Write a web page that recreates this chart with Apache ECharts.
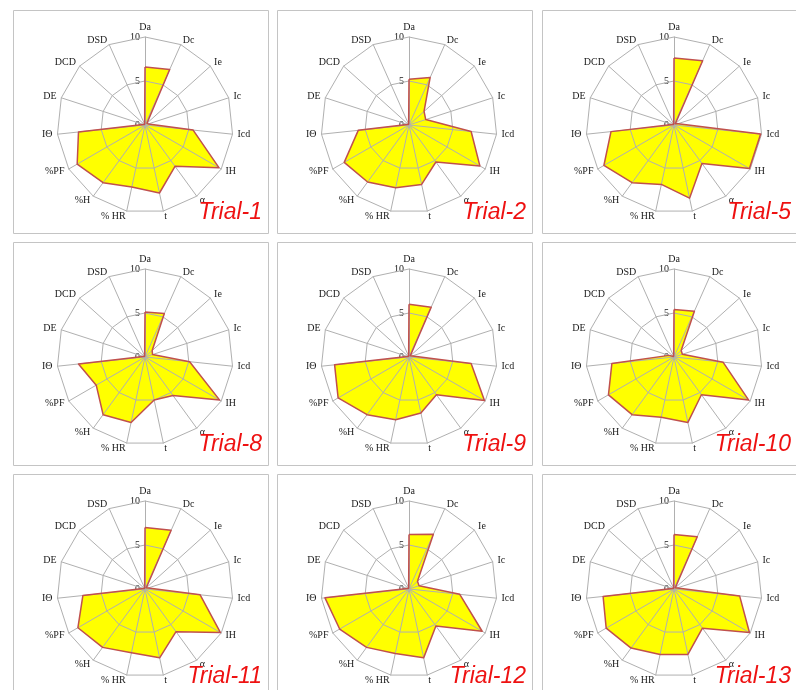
<!DOCTYPE html>
<html>
<head>
<meta charset="utf-8">
<script src="https://cdn.jsdelivr.net/npm/echarts@6/dist/echarts.min.js"></script>
<style>
  html, body { margin: 0; padding: 0; background: #fff; }
  #chart { width: 796px; height: 690px; }
</style>
</head>
<body>
<div id="chart"></div>
<script>
// axes, clockwise from the top
const axisNames = ['Da', 'Dc', 'Ie', 'Ic', 'Icd', 'IH', 'α', 't', '% HR', '%H', '%PF', 'IΘ', 'DE', 'DCD', 'DSD'];
const axisMax = 10;
const radiusTicks = [0, 5, 10];

const trialNames = ['Trial-1', 'Trial-2', 'Trial-5', 'Trial-8', 'Trial-9', 'Trial-10', 'Trial-11', 'Trial-12', 'Trial-13'];

//                Da   Dc   Ie   Ic   Icd  IH   α    t    %HR  %H   %PF  IΘ   DE   DCD  DSD
const trial1  = [6.6, 6.9, 0.3, 0.4, 5.5, 9.7, 5.8, 7.9, 7.2, 8.1, 8.9, 7.6, 0.2, 0.1, 0.1];
const trial2  = [5.2, 5.9, 2.3, 2.0, 7.1, 9.3, 5.2, 6.9, 7.3, 8.0, 8.5, 5.8, 0.2, 0.1, 0.1];
const trial5  = [7.6, 8.0, 0.2, 0.5, 9.9, 9.9, 5.4, 8.5, 6.9, 8.1, 9.2, 7.2, 0.2, 0.1, 0.1];
const trial8  = [5.1, 5.4, 1.1, 0.9, 5.1, 9.8, 5.4, 5.0, 7.6, 8.1, 6.4, 7.6, 0.2, 0.1, 0.1];
const trial9  = [6.0, 6.2, 0.2, 0.4, 7.1, 9.9, 5.3, 6.5, 7.3, 8.1, 9.3, 8.5, 0.2, 0.1, 0.1];
const trial10 = [5.4, 5.7, 1.1, 1.0, 5.6, 9.8, 5.3, 7.6, 7.0, 8.1, 8.6, 7.1, 0.6, 0.1, 0.1];
const trial11 = [7.0, 7.3, 0.2, 0.4, 6.3, 9.9, 6.0, 8.0, 7.4, 8.2, 8.8, 7.1, 0.2, 0.1, 0.1];
const trial12 = [6.2, 6.8, 1.3, 1.2, 5.8, 9.6, 5.2, 8.0, 7.5, 8.2, 9.1, 9.6, 0.2, 0.1, 0.1];
const trial13 = [6.2, 6.5, 0.2, 0.4, 7.5, 9.9, 5.5, 7.6, 7.6, 8.3, 8.9, 8.1, 0.2, 0.1, 0.1];
const trialValues = [trial1, trial2, trial5, trial8, trial9, trial10, trial11, trial12, trial13];

// panel layout
const panelLeft = [13, 277, 542];
const panelTop = [10, 242, 474];
const panelW = 255, panelH = 223;
const centerDx = 132, centerDy = 115, radarR = 88;

const gridColor = '#b0b0b0';
const serif = '"Liberation Serif", "DejaVu Serif", serif';

// echarts radar runs counter-clockwise, so flip the order after the first axis
const order = axisNames.map((_, i) => (i === 0 ? 0 : axisNames.length - i));

const myChart = echarts.init(document.getElementById('chart'), null, {renderer: 'canvas'});

const radar = [], polar = [], angleAxis = [], radiusAxis = [], series = [], title = [], rects = [];

trialValues.forEach((vals, k) => {
    const col = k % 3, row = Math.floor(k / 3);
    const pl = panelLeft[col], pt = panelTop[row];
    const cx = pl + centerDx, cy = pt + centerDy;
    const values = order.map(i => vals[i]);

    rects.push({
        type: 'rect',
        shape: {x: pl + 0.5, y: pt + 0.5, width: panelW, height: panelH},
        style: {fill: 'none', stroke: '#c4c4c4', lineWidth: 1},
        silent: true
    });

    // grid drawn above the yellow fill, like the excel original
    radar.push({
        z: 2,
        center: [cx, cy],
        radius: radarR,
        startAngle: 90,
        shape: 'polygon',
        splitNumber: 2,
        indicator: order.map(i => ({name: axisNames[i], min: 0, max: axisMax})),
        axisName: {color: '#1a1a1a', fontFamily: serif, fontSize: 10},
        nameGap: 5,
        axisLine: {lineStyle: {color: gridColor, width: 1}},
        splitLine: {lineStyle: {color: gridColor, width: 1}},
        splitArea: {show: false}
    });

    // polar only used to print the 0 / 5 / 10 labels along the top axis
    polar.push({center: [cx, cy], radius: radarR});
    angleAxis.push({polarIndex: k, type: 'value', min: 0, max: 360, startAngle: 90, show: false});
    radiusAxis.push({
        polarIndex: k,
        type: 'value',
        min: radiusTicks[0],
        max: radiusTicks[radiusTicks.length - 1],
        interval: radiusTicks[1] - radiusTicks[0],
        axisLine: {show: false},
        axisTick: {show: false},
        splitLine: {show: false},
        axisLabel: {color: '#1a1a1a', fontFamily: serif, fontSize: 10, margin: 5}
    });

    // fill
    series.push({
        type: 'radar',
        radarIndex: k,
        z: 1,
        symbol: 'none',
        silent: true,
        lineStyle: {width: 0},
        areaStyle: {color: '#ffff00', opacity: 1},
        data: [{value: values, name: trialNames[k]}]
    });
    // outline on top
    series.push({
        type: 'radar',
        radarIndex: k,
        z: 3,
        symbol: 'none',
        silent: true,
        lineStyle: {color: '#c0504d', width: 1.5},
        data: [{value: values, name: trialNames[k]}]
    });

    title.push({
        text: trialNames[k],
        right: 796 - (pl + panelW - 6),
        top: pt + 191,
        padding: 0,
        z: 4,
        textStyle: {
            color: '#ee1111',
            fontFamily: '"Liberation Sans", Arial, sans-serif',
            fontStyle: 'italic',
            fontWeight: 'normal',
            fontSize: 23
        }
    });
});

const option = {
    backgroundColor: '#ffffff',
    animation: false,
    title: title,
    graphic: rects,
    radar: radar,
    polar: polar,
    angleAxis: angleAxis,
    radiusAxis: radiusAxis,
    series: series
};

option && myChart.setOption(option);
</script>
</body>
</html>
